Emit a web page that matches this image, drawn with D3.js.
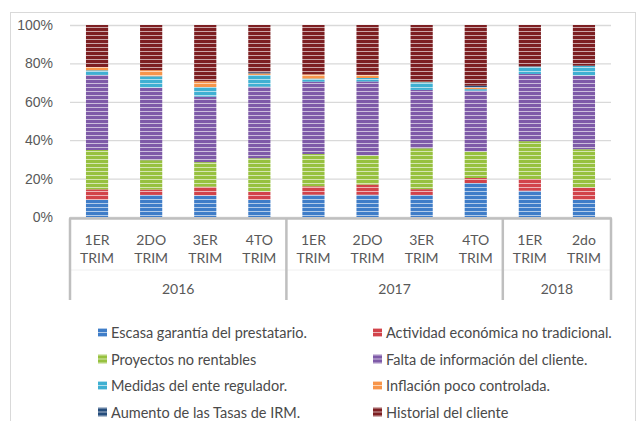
<!DOCTYPE html>
<html>
<head>
<meta charset="utf-8">
<script src="https://cdn.jsdelivr.net/npm/d3@7"></script>
<style>
  body { margin: 0; background: #fff; }
  svg { font-family: Lato, "Open Sans", sans-serif; }
</style>
</head>
<body>
<div class="chart"></div>
<script>
// data (percent of each quarter)
let quarters = ["1ER TRIM", "2DO TRIM", "3ER TRIM", "4TO TRIM", "1ER TRIM", "2DO TRIM", "3ER TRIM", "4TO TRIM", "1ER TRIM", "2do TRIM"]
let years = ["2016", "2017", "2018"]
let quartersPerYear = [4, 4, 2]

let seriesNames = [
    "Escasa garantía del prestatario.",
    "Actividad económica no tradicional.",
    "Proyectos no rentables",
    "Falta de información del cliente.",
    "Medidas del ente regulador.",
    "Inflación poco controlada.",
    "Aumento de las Tasas de IRM.",
    "Historial del cliente"
]
let escasa     = [8.9, 11.5, 11.2, 8.9, 11.6, 11.6, 11.5, 17.7, 13.7, 8.9]
let actividad  = [5.5, 2.8, 4.6, 4.3, 4.4, 5.3, 3.0, 2.6, 6.1, 6.5]
let proyectos  = [20.5, 15.3, 12.8, 17.4, 16.8, 15.2, 21.3, 13.8, 19.7, 19.9]
let falta      = [39.1, 37.8, 34.1, 37.3, 37.7, 38.5, 30.4, 31.7, 35.0, 38.4]
let medidas    = [2.4, 5.9, 5.0, 6.1, 1.6, 1.8, 4.0, 0.8, 3.9, 5.1]
let inflacion  = [1.7, 3.2, 3.0, 0.8, 2.2, 1.6, 0.3, 0.8, 0, 0]
let aumento    = [0, 0, 0, 0.6, 0, 0, 0, 1.0, 0, 0]
let historial  = [21.9, 23.5, 29.3, 24.6, 25.7, 26.0, 29.5, 31.6, 21.6, 21.2]
let yTicks = [0, 0.2, 0.4, 0.6, 0.8, 1]

let colors = ["#3f7dc8", "#d2434a", "#97c13f", "#7e5aa8", "#3fb0d2", "#f7954a", "#264d7c", "#7d1f22"]

let seriesValues = [escasa, actividad, proyectos, falta, medidas, inflacion, aumento, historial]
let keys = seriesNames
let table = quarters.map((q, i) => {
    let row = { idx: i }
    keys.forEach((k, j) => row[k] = seriesValues[j][i])
    return row
})

let svgWidth = 641
let svgHeight = 421
let plot = { left: 70, right: 611, top: 25, bottom: 217 }

let svg = d3.select('.chart')
    .append('svg')
    .attr('width', svgWidth)
    .attr('height', svgHeight)

// outer chart border
svg.append('rect')
    .attr('x', 10.5).attr('y', 12.5)
    .attr('width', 625).attr('height', 430)
    .attr('fill', '#fff')
    .attr('stroke', '#d9d9d9')

// striped fills
let defs = svg.append('defs')
colors.forEach((c, i) => {
    let p = defs.append('pattern')
        .attr('id', 'pat' + i)
        .attr('patternUnits', 'userSpaceOnUse')
        .attr('width', 4).attr('height', 4)
    p.append('rect').attr('width', 4).attr('height', 4).attr('fill', c)
    p.append('rect').attr('y', 3).attr('width', 4).attr('height', 1).attr('fill', '#fff').attr('opacity', 0.6)
})

let xScale = d3.scaleBand()
    .domain(d3.range(quarters.length))
    .range([plot.left, plot.right])
    .paddingInner(0.59)
    .paddingOuter(0.295)

let yScale = d3.scaleLinear()
    .domain([0, 1])
    .range([plot.bottom, plot.top])

// gridlines + y labels
let yAxis = d3.axisLeft(yScale)
    .tickValues(yTicks)
    .tickFormat(d3.format(".0%"))
    .tickSize(-(plot.right - plot.left))
    .tickPadding(17)

let gy = svg.append('g')
    .attr('transform', `translate(${plot.left},0)`)
    .call(yAxis)
gy.select('.domain').remove()
gy.selectAll('line').attr('stroke', '#d9d9d9').attr('stroke-width', 1.3)
gy.selectAll('text')
    .attr('fill', '#595959')
    .style('font-size', '14px')

// stacked bars
let stack = d3.stack().keys(keys).offset(d3.stackOffsetExpand)
let layers = stack(table)

svg.append('g')
    .selectAll('g')
    .data(layers)
    .join('g')
    .attr('fill', (d, i) => `url(#pat${i})`)
    .selectAll('rect')
    .data(d => d)
    .join('rect')
    .attr('x', d => xScale(d.data.idx))
    .attr('width', xScale.bandwidth())
    .attr('y', d => yScale(d[1]))
    .attr('height', d => yScale(d[0]) - yScale(d[1]))

// multi level category axis
let axisY = plot.bottom + 1.5
let axisBottom = 300
let gx = svg.append('g')
gx.append('line')
    .attr('x1', plot.left).attr('x2', plot.right)
    .attr('y1', 270).attr('y2', 270)
    .attr('stroke', '#f0f0f0')
gx.append('line')
    .attr('x1', plot.left - 1).attr('x2', plot.right + 1)
    .attr('y1', axisY).attr('y2', axisY)
    .attr('stroke', '#bfbfbf').attr('stroke-width', 2.5)

let step = xScale.step()
let boundaries = [0]
quartersPerYear.reduce((acc, n) => { boundaries.push(acc + n); return acc + n }, 0)
gx.selectAll('.sep')
    .data(boundaries)
    .join('line')
    .attr('class', 'sep')
    .attr('x1', d => plot.left + d * step)
    .attr('x2', d => plot.left + d * step)
    .attr('y1', axisY).attr('y2', axisBottom)
    .attr('stroke', '#bfbfbf').attr('stroke-width', 2.5)

let qLabels = gx.selectAll('.q')
    .data(quarters)
    .join('text')
    .attr('class', 'q')
    .attr('x', (d, i) => xScale(i) + xScale.bandwidth() / 2)
    .attr('text-anchor', 'middle')
    .attr('fill', '#595959')
    .style('font-size', '14px')
qLabels.selectAll('tspan')
    .data(d => d.split(' '))
    .join('tspan')
    .attr('x', function() { return this.parentNode.getAttribute('x') })
    .attr('y', (d, i) => 245 + i * 18)
    .text(d => d)

gx.selectAll('.yr')
    .data(years)
    .join('text')
    .attr('class', 'yr')
    .attr('x', (d, i) => plot.left + (boundaries[i] + boundaries[i + 1]) / 2 * step)
    .attr('y', 294)
    .attr('text-anchor', 'middle')
    .attr('fill', '#595959')
    .style('font-size', '14px')
    .text(d => d)

// legend
let legend = svg.append('g')
    .selectAll('g')
    .data(seriesNames)
    .join('g')
    .attr('transform', (d, i) => `translate(${i % 2 ? 373 : 98},${333 + Math.floor(i / 2) * 26.5})`)
legend.append('rect')
    .attr('x', 0).attr('y', -5)
    .attr('width', 9).attr('height', 9)
    .attr('fill', (d, i) => `url(#pat${i})`)
legend.append('text')
    .attr('x', 13).attr('y', 5)
    .attr('fill', '#4a4a4a')
    .style('font-size', '14.5px')
    .text(d => d)
</script>
</body>
</html>
